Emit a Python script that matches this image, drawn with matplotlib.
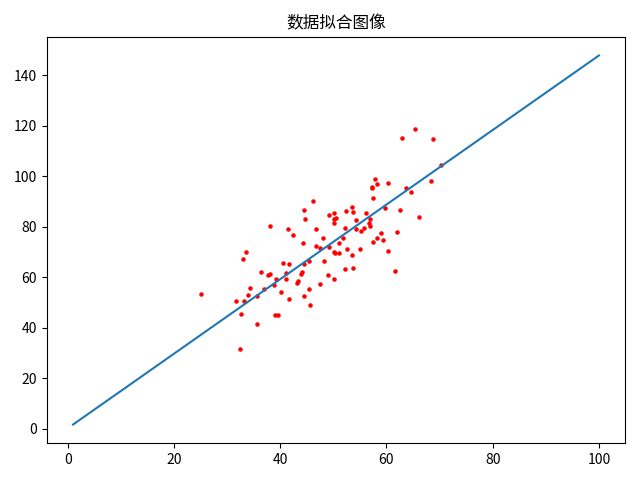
import matplotlib
matplotlib.use("Agg")
import matplotlib.pyplot as plt

plt.rcParams['font.family'] = ['Noto Sans CJK SC', 'DejaVu Sans']
plt.rcParams['axes.unicode_minus'] = False

# sample points
x_data = [32.50, 53.43, 61.53, 47.48, 59.81, 55.14, 52.21, 39.30, 48.11, 52.55,
          45.42, 54.35, 44.16, 58.17, 56.73, 48.96, 44.69, 60.30, 45.62, 38.82,
          66.19, 65.42, 47.48, 41.58, 51.85, 59.37, 57.31, 63.62, 46.74, 50.56,
          52.22, 35.57, 42.44, 58.16, 57.50, 45.44, 61.90, 33.09, 36.44, 37.68,
          44.56, 43.32, 50.07, 43.87, 63.00, 32.67, 40.17, 53.58, 33.86, 64.71,
          38.12, 44.50, 40.60, 41.72, 51.09, 55.08, 41.38, 62.49, 49.20, 41.10,
          41.18, 50.19, 52.38, 50.14, 33.64, 39.56, 56.13, 57.36, 60.27, 35.68,
          31.59, 53.66, 46.68, 43.11, 70.35, 44.49, 57.50, 36.93, 55.81, 38.95,
          56.90, 56.87, 34.33, 59.05, 57.79, 54.28, 51.09, 50.28, 44.21, 38.01,
          32.94, 53.69, 68.77, 46.23, 68.32, 50.03, 49.24, 50.04, 48.15, 25.13]
y_data = [31.71, 68.78, 62.56, 71.55, 87.23, 78.21, 79.64, 59.17, 75.33, 71.30,
          55.17, 82.48, 62.01, 75.39, 81.44, 60.72, 82.89, 97.38, 48.85, 56.88,
          83.88, 118.59, 57.25, 51.39, 75.38, 74.77, 95.46, 95.23, 79.05, 83.43,
          63.36, 41.41, 76.62, 96.77, 74.08, 66.59, 77.77, 50.72, 62.12, 60.81,
          52.68, 58.57, 82.91, 61.42, 115.24, 45.57, 54.08, 87.99, 52.73, 93.58,
          80.17, 65.10, 65.56, 65.28, 73.43, 71.14, 79.10, 86.52, 84.74, 59.36,
          61.68, 69.85, 86.10, 59.11, 69.90, 44.86, 85.50, 95.54, 70.25, 52.72,
          50.39, 63.64, 72.25, 57.81, 104.26, 86.64, 91.49, 55.23, 79.55, 44.85,
          80.21, 83.14, 55.72, 77.63, 99.05, 79.12, 69.59, 69.51, 73.69, 61.37,
          67.17, 85.67, 114.85, 90.12, 97.92, 81.54, 72.11, 85.23, 66.22, 53.45]

# fitted line endpoints
line_x = [1, 100]
line_y = [1.57, 147.86]

plt.figure(figsize=(6.4, 4.8), dpi=100)
plt.title('数据拟合图像')
plt.scatter(x_data, y_data, c='r', s=5)
plt.plot(line_x, line_y)
plt.subplots_adjust(left=0.073, right=0.977, top=0.923, bottom=0.077)
plt.savefig('out.png')
